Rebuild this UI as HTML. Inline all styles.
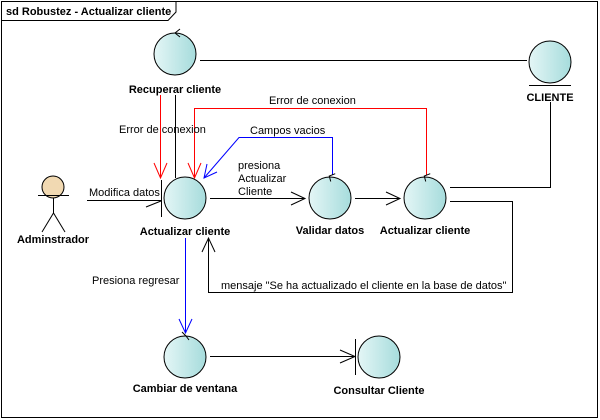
<!DOCTYPE html>
<html><head><meta charset="utf-8"><style>
html,body{margin:0;padding:0;background:#fff;width:600px;height:420px;overflow:hidden}
svg{display:block}
text{font-family:"Liberation Sans",Arial,sans-serif;font-size:11px;fill:#000}
.b{font-weight:bold}
</style></head><body>
<svg width="600" height="420" viewBox="0 0 600 420" xmlns="http://www.w3.org/2000/svg">
<defs>
<linearGradient id="g" x1="0" x2="1" y1="0" y2="0">
<stop offset="0" stop-color="#e4f6f6"/><stop offset="1" stop-color="#a6dcdc"/>
</linearGradient>
</defs>
<rect x="1.5" y="1.5" width="596" height="416" fill="#fff" stroke="#000"/>
<path d="M1.5 20.5 H168 L176 12 V1.5" fill="none" stroke="#000"/>
<text x="6" y="15" class="b">sd Robustez - Actualizar cliente</text>

<g fill="none" stroke="#000" stroke-width="1">
<!-- Recuperar to CLIENTE -->
<line x1="200" y1="60.5" x2="527" y2="60.5"/>
<!-- CLIENTE to Actualizar2 -->
<polyline points="550.5,102 550.5,187.5 450,187.5"/>
<!-- Recuperar to Actualizar -->
<line x1="175.5" y1="95" x2="175.5" y2="178"/>
<!-- Modifica datos -->
<line x1="87" y1="200.5" x2="162" y2="200.5"/>
<line x1="146" y1="207" x2="161" y2="201"/>
<line x1="161.5" y1="180" x2="161.5" y2="217"/>
<!-- presiona -->
<line x1="210" y1="198.5" x2="305" y2="198.5"/>
<polyline points="291,192 305,198.5 291,205"/>
<!-- validar -> actualizar2 -->
<line x1="355" y1="198.5" x2="400" y2="198.5"/>
<polyline points="386,192 400,198.5 386,205"/>
<!-- mensaje -->
<polyline points="450,201.5 512.5,201.5 512.5,292.5 208.5,292.5 208.5,238"/>
<polyline points="202,252 208.5,238 215,252"/>
<!-- cambiar -> consultar -->
<line x1="210" y1="356.5" x2="355" y2="356.5"/>
<polyline points="340,350 355,356.5 340,363"/>
<line x1="355.5" y1="339" x2="355.5" y2="375"/>
<!-- CLIENTE underline -->
<line x1="529" y1="85.5" x2="571" y2="85.5"/>
</g>

<!-- red -->
<g fill="none" stroke="#f00">
<line x1="160.5" y1="95" x2="160.5" y2="178"/>
<polyline points="154,163 160.5,178 167,163"/>
<polyline points="426.5,175 426.5,108.5 194.5,108.5 194.5,178"/>
<polyline points="188,163 194.5,178 201,163"/>
</g>
<!-- blue -->
<g fill="none" stroke="#00f">
<polyline points="332.5,175 332.5,137.5 239,137.5 204,178"/>
<polyline points="207,164 204,178 217,172"/>
<line x1="185.5" y1="238" x2="185.5" y2="333"/>
<polyline points="179,319 185.5,333 192,319"/>
</g>

<!-- circles -->
<g stroke="#000" fill="url(#g)">
<circle cx="175" cy="54" r="21"/>
<circle cx="550" cy="62" r="21"/>
<circle cx="185" cy="198" r="21"/>
<circle cx="330" cy="198" r="21"/>
<circle cx="425" cy="198" r="21"/>
<circle cx="185" cy="357" r="21"/>
<circle cx="379" cy="357" r="21"/>
</g>
<!-- control arrows on circles -->
<g fill="none" stroke="#000">
<polyline points="180,29 175,33 180,37"/>
<polyline points="333,172 329,177 333,181" transform="rotate(30 331 177)"/>
<polyline points="428,172 424,177 428,181" transform="rotate(30 426 177)"/>
<polyline points="182,332 186,336 189,340"/>
</g>

<!-- actor -->
<circle cx="53" cy="187" r="11" fill="#f1d9b2" stroke="#000"/>
<g stroke="#000" fill="none">
<line x1="53.5" y1="198" x2="53.5" y2="213"/>
<line x1="38" y1="195.5" x2="69" y2="195.5"/>
<polyline points="42,232 53.5,213 65,232"/>
</g>

<text x="53" y="243" class="b" text-anchor="middle">Adminstrador</text>
<text x="175" y="93" class="b" text-anchor="middle">Recuperar cliente</text>
<text x="550" y="101" class="b" text-anchor="middle">CLIENTE</text>
<text x="185" y="235" class="b" text-anchor="middle">Actualizar cliente</text>
<text x="330" y="234" class="b" text-anchor="middle">Validar datos</text>
<text x="425" y="234" class="b" text-anchor="middle">Actualizar cliente</text>
<text x="185" y="392" class="b" text-anchor="middle">Cambiar de ventana</text>
<text x="379" y="394" class="b" text-anchor="middle">Consultar Cliente</text>

<text x="89" y="196">Modifica datos</text>
<text x="119" y="133">Error de conexion</text>
<text x="269" y="104">Error de conexion</text>
<text x="250" y="134">Campos vacios</text>
<text x="238" y="169">presiona</text>
<text x="238" y="182">Actualizar</text>
<text x="238" y="195">Cliente</text>
<text x="92" y="284">Presiona regresar</text>
<text x="221" y="289">mensaje "Se ha actualizado el cliente en la base de datos"</text>
</svg>
</body></html>
